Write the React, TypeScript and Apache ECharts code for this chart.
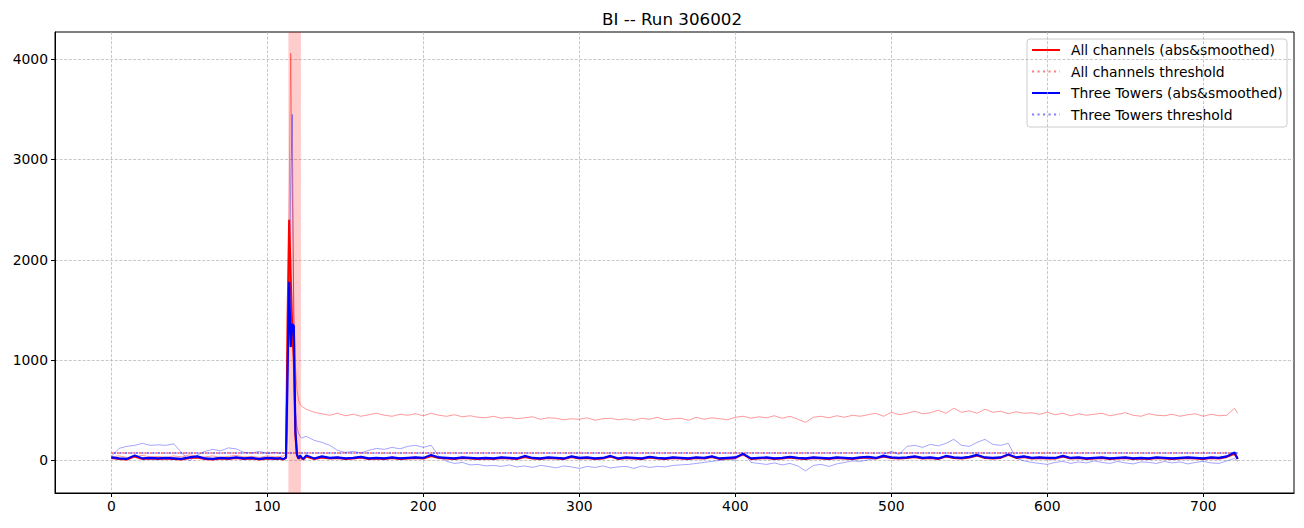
import React, { useEffect, useRef } from "react";
import * as echarts from "echarts";

const TITLE = "BI -- Run 306002";
const X_TICKS = [0, 100, 200, 300, 400, 500, 600, 700];
const Y_TICKS = [0, 1000, 2000, 3000, 4000];
const X_MIN = -36.1;
const X_MAX = 758.1;
const Y_MIN = -325;
const Y_MAX = 4271;

const BAND_START = 113.5;
const BAND_END = 121.5;

const THR_ALL = 75;
const THR_TT = 75;
const THR_X = [0, 722];

const LEGEND_LABELS = [
  "All channels (abs&smoothed)",
  "All channels threshold",
  "Three Towers (abs&smoothed)",
  "Three Towers threshold",
];

// sample positions: every 5 before/after the burst, every 1 during it
function buildXs(): number[] {
  const xs: number[] = [];
  for (let x = 0; x <= 105; x += 5) xs.push(x);
  for (let x = 107; x <= 123; x += 1) xs.push(x);
  for (let x = 125; x <= 720; x += 5) xs.push(x);
  xs.push(722);
  return xs;
}

// raw (thin) all channels
const rawAllA = [35, 45, 30, 40, 50, 35, 40, 30, 45, 35, 55, 40, 35, 45, 30, 40, 50, 35, 40, 30, 45, 35];
const rawAllB = [40, 35, 45, 40, 50, 60, 900, 2600, 4060, 2700, 1500, 950, 700, 600, 560, 540, 530];
const rawAllC = [
  510, 480, 465, 450, 470, 445, 460, 440, 455, 470, 450, 440, 460, 450, 465, 445, 470, 450, 440, 455, 435, 445, 430, 425,
  440, 420, 430, 415, 425, 435, 410, 425, 420, 405, 415, 410, 425, 400, 415, 420, 405, 415, 400, 420, 410, 430, 405, 415,
  420, 400, 430, 410, 425, 415, 405, 430, 440, 420, 435, 425, 445, 420, 440, 410, 380, 430, 440, 425, 445, 430, 450, 440,
  455, 470, 440, 480, 455, 470, 490, 465, 475, 500, 470, 520, 480, 495, 470, 510, 480, 490, 465, 485, 470, 475, 460, 480,
  455, 470, 445, 465, 450, 460, 470, 445, 460, 475, 450, 440, 465, 450, 445, 460, 440, 455, 465, 440, 460, 445, 450, 520,
  470,
];

// raw (thin) three towers
const rawTTA = [40, 120, 140, 150, 170, 150, 155, 150, 165, 80, -5, 50, 90, 110, 95, 125, 115, 80, 75, 90, 70, 80];
const rawTTB = [75, 70, 80, 75, 70, 80, 300, 1500, 2800, 3450, 1300, 500, 330, 270, 240, 220, 230];
const rawTTC = [
  240, 200, 180, 150, 100, 80, 90, 75, 100, 120, 110, 130, 115, 140, 150, 130, 150, 40, -10, -30, -20, -45, -40, -55,
  -50, -60, -45, -65, -55, -70, -50, -60, -75, -55, -65, -80, -60, -70, -55, -75, -65, -60, -80, -55, -70, -60, -65, -50,
  -45, -40, -30, -20, -10, 0, 10, 5, 80, -20, -30, -40, -25, -45, -30, -55, -105, -50, -40, -60, -35, -20, -5, -10,
  5, 20, 60, 90, 60, 140, 150, 130, 160, 145, 170, 210, 150, 140, 180, 210, 160, 150, 170, 20, -5, -20, -30, -40,
  -20, -10, -30, -15, -25, -5, -20, -30, -10, -25, -35, -15, -20, -30, -10, -25, -15, -35, -20, -10, -25, -30, -5, 20,
  -10,
];

// smoothed all channels
const smAllA = [25, 15, 10, 40, 15, 20, 15, 20, 15, 10, 25, 30, 15, 10, 20, 15, 25, 15, 20, 10, 20, 15];
const smAllB = [15, 20, 15, 10, 15, 25, 1400, 2400, 1800, 1300, 1000, 250, 50, 15, 40, 20, 10];
const smAllC = [
  40, 15, 30, 20, 25, 15, 20, 30, 15, 20, 15, 25, 15, 20, 25, 20, 45, 25, 20, 15, 25, 20, 15, 20,
  15, 25, 20, 15, 35, 20, 15, 25, 20, 15, 35, 20, 25, 15, 20, 40, 15, 25, 20, 15, 30, 20, 15, 25,
  20, 15, 25, 20, 35, 15, 20, 25, 60, 15, 20, 25, 15, 20, 30, 20, 15, 25, 20, 15, 25, 20, 15, 25,
  30, 20, 40, 25, 20, 25, 35, 20, 25, 15, 40, 25, 20, 30, 50, 25, 20, 25, 55, 25, 35, 20, 25, 20,
  20, 40, 20, 25, 15, 20, 25, 15, 20, 25, 15, 20, 15, 25, 20, 15, 20, 25, 20, 15, 25, 20, 35, 65,
  15,
];

// smoothed three towers
const smTTA = [30, 20, 15, 50, 20, 25, 20, 25, 20, 15, 30, 40, 20, 15, 25, 20, 30, 20, 25, 15, 25, 20];
const smTTB = [20, 25, 20, 15, 20, 30, 900, 1780, 1130, 1360, 1340, 300, 60, 20, 50, 30, 15];
const smTTC = [
  50, 20, 40, 25, 30, 20, 25, 35, 20, 25, 20, 30, 20, 25, 30, 25, 55, 30, 25, 20, 30, 25, 20, 25,
  20, 30, 25, 20, 45, 25, 20, 30, 25, 20, 40, 25, 30, 20, 25, 45, 20, 30, 25, 20, 35, 25, 20, 30,
  25, 20, 30, 25, 40, 20, 25, 30, 65, 20, 25, 30, 20, 25, 35, 25, 20, 30, 25, 20, 30, 25, 20, 30,
  35, 25, 45, 30, 25, 30, 40, 25, 30, 20, 45, 30, 25, 35, 55, 30, 25, 30, 60, 30, 40, 25, 30, 25,
  25, 45, 25, 30, 20, 25, 30, 20, 25, 30, 20, 25, 20, 30, 25, 20, 25, 30, 25, 20, 30, 25, 40, 80,
  15,
];

const FONT = "DejaVu Sans";

export default function App() {
  const ref = useRef<HTMLDivElement>(null);

  useEffect(() => {
    if (!ref.current) return;
    const chart = echarts.init(ref.current, undefined, { renderer: "svg" });
    const xs = buildXs();
    const pair = (ys: number[]) => xs.map((x, i) => [x, ys[i]]);
    const rawAll = pair([...rawAllA, ...rawAllB, ...rawAllC]);
    const rawTT = pair([...rawTTA, ...rawTTB, ...rawTTC]);
    const smAll = pair([...smAllA, ...smAllB, ...smAllC]);
    const smTT = pair([...smTTA, ...smTTB, ...smTTC]);
    const thrAll = THR_X.map((x) => [x, THR_ALL]);
    const thrTT = THR_X.map((x) => [x, THR_TT]);

    const gridLine = { show: true, lineStyle: { color: "#b0b0b0", width: 0.7, type: [3, 1.6] as any } };
    const lineBase = { type: "line", symbol: "none", silent: true, animation: false };

    const legendRowsY = [50, 71.5, 93, 114.5];
    const legendStyles = [
      { stroke: "#ff0000", lineWidth: 2, lineDash: null as any },
      { stroke: "rgba(255,0,0,0.5)", lineWidth: 2, lineDash: [2.1, 3.4] },
      { stroke: "#0000ff", lineWidth: 2, lineDash: null as any },
      { stroke: "rgba(0,0,255,0.5)", lineWidth: 2, lineDash: [2.1, 3.4] },
    ];
    const legendChildren: any[] = [
      {
        type: "rect",
        shape: { x: 1027, y: 39, width: 260, height: 88, r: 3 },
        style: { fill: "rgba(255,255,255,0.8)", stroke: "#cccccc", lineWidth: 1 },
      },
    ];
    LEGEND_LABELS.forEach((label, i) => {
      const y = legendRowsY[i];
      const st = legendStyles[i];
      legendChildren.push({
        type: "line",
        shape: { x1: 1032, y1: y, x2: 1060, y2: y },
        style: { stroke: st.stroke, lineWidth: st.lineWidth, lineDash: st.lineDash },
      });
      legendChildren.push({
        type: "text",
        x: 1071,
        y: y,
        style: {
          text: label,
          fill: "#000",
          font: `13.9px "${FONT}"`,
          verticalAlign: "middle",
          align: "left",
        },
      });
    });

    chart.setOption({
      animation: false,
      backgroundColor: "#ffffff",
      grid: {
        left: 55,
        right: 10,
        top: 32,
        bottom: 35,
        show: true,
        borderColor: "#000",
        borderWidth: 1,
        backgroundColor: "transparent",
      },
      xAxis: {
        type: "value",
        min: X_MIN,
        max: X_MAX,
        splitNumber: 8,
        axisLine: { show: true, onZero: false, lineStyle: { color: "#000", width: 1 } },
        axisTick: { show: true, length: 4, lineStyle: { color: "#000", width: 1 }, customValues: X_TICKS },
        axisLabel: {
          color: "#000",
          fontSize: 13.9,
          fontFamily: FONT,
          margin: 6,
          customValues: X_TICKS,
          formatter: (v: number) => (X_TICKS.includes(v) ? String(v) : ""),
        },
        splitLine: gridLine,
      },
      yAxis: {
        type: "value",
        min: Y_MIN,
        max: Y_MAX,
        splitNumber: 5,
        axisLine: { show: true, onZero: false, lineStyle: { color: "#000", width: 1 } },
        axisTick: { show: true, length: 4, lineStyle: { color: "#000", width: 1 }, customValues: Y_TICKS },
        axisLabel: {
          color: "#000",
          fontSize: 13.9,
          fontFamily: FONT,
          margin: 7,
          customValues: Y_TICKS,
          formatter: (v: number) => (Y_TICKS.includes(v) ? String(v) : ""),
        },
        splitLine: gridLine,
      },
      graphic: [
        {
          type: "text",
          x: 672,
          y: 19,
          style: {
            text: TITLE,
            fill: "#000",
            font: `16.7px "${FONT}"`,
            align: "center",
            verticalAlign: "middle",
          },
          z: 100,
        },
        { type: "group", z: 100, children: legendChildren },
      ],
      series: [
        {
          ...lineBase,
          name: "All channels raw",
          data: rawAll,
          lineStyle: { color: "#ff0000", width: 0.8, opacity: 0.5 },
          itemStyle: { color: "#ff0000" },
          markArea: {
            silent: true,
            itemStyle: { color: "rgba(255,0,0,0.2)" },
            data: [[{ xAxis: BAND_START }, { xAxis: BAND_END }]],
          },
          z: 2,
        },
        {
          ...lineBase,
          name: "Three Towers raw",
          data: rawTT,
          lineStyle: { color: "#0000ff", width: 0.8, opacity: 0.45 },
          itemStyle: { color: "#0000ff" },
          z: 3,
        },
        {
          ...lineBase,
          name: LEGEND_LABELS[0],
          data: smAll,
          lineStyle: { color: "#ff0000", width: 2.1 },
          itemStyle: { color: "#ff0000" },
          z: 4,
        },
        {
          ...lineBase,
          name: LEGEND_LABELS[1],
          data: thrAll,
          lineStyle: { color: "#ff0000", width: 2, opacity: 0.5, type: [2.1, 3.4], dashOffset: 0 },
          itemStyle: { color: "#ff0000" },
          z: 5,
        },
        {
          ...lineBase,
          name: LEGEND_LABELS[2],
          data: smTT,
          lineStyle: { color: "#0000ff", width: 2.1 },
          itemStyle: { color: "#0000ff" },
          z: 6,
        },
        {
          ...lineBase,
          name: LEGEND_LABELS[3],
          data: thrTT,
          lineStyle: { color: "#0000ff", width: 2, opacity: 0.5, type: [2.1, 3.4], dashOffset: 2.75 },
          itemStyle: { color: "#0000ff" },
          z: 7,
        },
      ],
    });

    return () => chart.dispose();
  }, []);

  return (
    <div
      ref={ref}
      style={{ position: "fixed", left: 0, top: 0, width: 1304, height: 528, background: "#fff" }}
    />
  );
}
